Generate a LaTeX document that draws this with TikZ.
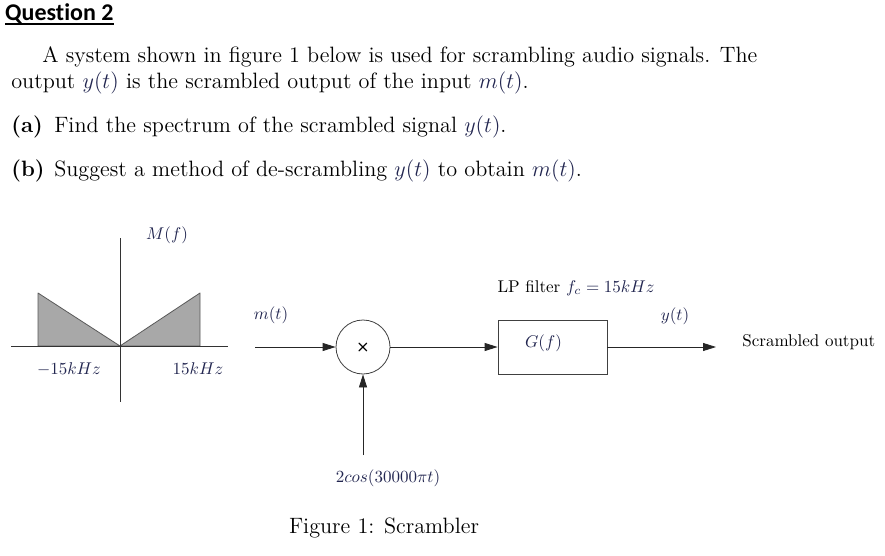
\documentclass[tikz,border=0pt]{standalone}
\usepackage{fontspec}
\newfontfamily\headfont{Carlito}[Ligatures=CommonOff]
\usetikzlibrary{arrows.meta}
\definecolor{mathnavy}{HTML}{222650}
\definecolor{specfill}{HTML}{A8A8A8}
\newcommand{\mth}[1]{\textcolor{mathnavy}{$#1$}}

\begin{document}
\begin{tikzpicture}[x=1pt, y=-1pt,
    body/.style={font=\fontsize{12}{14.5}\selectfont, scale=1.85,
      transform shape, inner sep=0pt, anchor=base west},
    lbl/.style={font=\fontsize{10}{12}\selectfont, scale=1.70,
      transform shape, inner sep=0pt},
    axis/.style={draw=black!80, line width=0.8pt},
    spec/.style={draw=black!65, fill=specfill, line width=0.8pt,
      line join=round},
    sig/.style={draw=black!85, line width=0.8pt,
      -{Triangle[length=13pt, width=8pt]}},
    mixer/.style={circle, draw=black!75, line width=0.8pt,
      minimum size=54pt, inner sep=0pt,
      font=\sffamily\bfseries\fontsize{16}{16}\selectfont},
    block/.style={rectangle, draw=black!75, line width=0.8pt,
      minimum width=109pt, minimum height=54pt, inner sep=0pt}
  ]
    \useasboundingbox[fill=white] (0,0) rectangle (885,556);

    % Heading
    \node[anchor=base west, inner sep=0pt,
      font=\headfont\bfseries\fontsize{24}{28}\selectfont]
      (qhead) at (5,21) {Question 2};
    \draw[line width=1.5pt] ([yshift=-3pt]qhead.base west)
      -- ([yshift=-3pt]qhead.base east);

    % Question text
    \node[body] (line1) at (42,63) {\makebox[386.5pt][s]{A system shown
      in figure 1 below is used for scrambling audio signals. The}};
    \node[body] (line2) at (11,89) {output \mth{y(t)} is the scrambled
      output of the input \mth{m(t)}.};
    \node[body] (parta) at (11,133) {\makebox[23.2pt][l]{\textbf{(a)}}Find
      the spectrum of the scrambled signal \mth{y(t)}.};
    \node[body] (partb) at (11,176) {\makebox[23.2pt][l]{\textbf{(b)}}Suggest
      a method of de-scrambling \mth{y(t)} to obtain \mth{m(t)}.};

    % Spectrum M(f)
    \draw[spec] (38,346) -- (38,293) -- (120,346) -- cycle;
    \draw[spec] (120,346) -- (200,293) -- (200,346) -- cycle;
    \draw[axis] (11,346) -- (228,346);
    \draw[axis] (120,238) -- (120,402);
    \node[lbl] (mf) at (167,235) {\mth{M(f)}};
    \node[lbl] (fneg) at (69,369) {\mth{-15kHz}};
    \node[lbl] (fpos) at (198,369) {\mth{15kHz}};

    % Scrambler
    \node[mixer] (mix) at (363,347) {×};
    \node[block, label={[lbl, xshift=-5.3pt, yshift=2.4pt]center:\mth{G(f)}}]
      (lpf) at (552.5,347) {};
    \coordinate (in) at (255,347);
    \coordinate (out) at (716,347);
    \coordinate (src) at (363,455);
    \draw[sig] (in) -- (mix);
    \draw[sig] (mix) -- (lpf);
    \draw[sig] (lpf) -- (out);
    \draw[sig] (src) -- (mix);

    \node[lbl] (mt) at (271,315) {\mth{m(t)}};
    \node[lbl] (lpname) at (576,288) {LP filter \mth{f_c = 15kHz}};
    \node[lbl] (yt) at (675,316) {\mth{y(t)}};
    \node[lbl, anchor=west] (scr) at (742,342) {Scrambled output};
    \node[lbl] (carrier) at (388,478) {\mth{2cos(30000\pi t)}};

    % Caption
    \node[body, anchor=center] (cap) at (384,528) {Figure 1: Scrambler};
  \end{tikzpicture}
\end{document}
